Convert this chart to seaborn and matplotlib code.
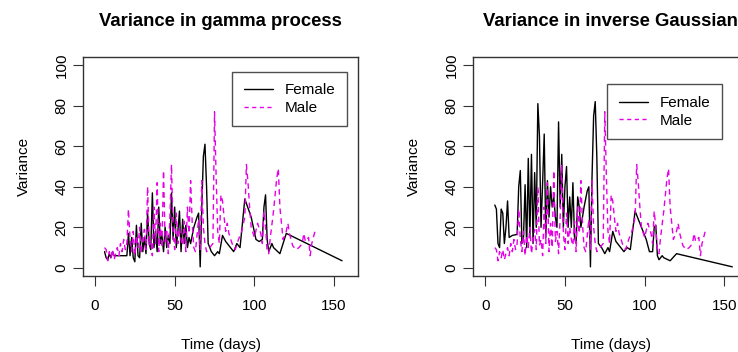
import numpy as np
import pandas as pd
import matplotlib
matplotlib.use("Agg")
import matplotlib.pyplot as plt
import seaborn as sns

female_day = [6, 7, 8, 9, 10, 11, 12, 13, 14, 15, 17, 20, 21, 22, 23, 24, 25, 26, 27, 28,
              29, 30, 31, 32, 33, 34, 35, 36, 37, 38, 39, 40, 41, 42, 43, 44, 45, 46, 47, 48,
              49, 50, 51, 52, 53, 54, 55, 56, 57, 58, 59, 60, 62, 64, 65, 66, 67, 68, 69, 70,
              71, 73, 75, 77, 78, 80, 82, 87, 89, 91, 94, 98, 101, 103, 105, 106, 107, 108, 109, 111,
              112, 116, 120, 155]
female_gamma = [8, 5, 4, 7, 5, 8, 6, 6, 6, 6, 6, 6, 17, 6, 15, 5, 3, 21, 6, 5,
                22, 8, 15, 7, 27, 12, 9, 37, 10, 18, 8, 30, 12, 16, 8, 20, 10, 16, 12, 37,
                14, 30, 10, 18, 28, 8, 24, 12, 21, 10, 15, 12, 20, 25, 27, 0.5, 30, 55, 61, 40,
                12, 8, 6, 8, 7, 16, 13, 8, 12, 10, 34, 25, 14, 13, 14, 30, 36, 14, 8, 12,
                10, 7, 17, 3.5]
female_ig = [31, 29, 12, 10, 29, 27, 12, 20, 33, 15, 16, 16.5, 40, 48, 12, 15, 41, 10, 54, 15,
             56, 12, 47, 20, 81, 65, 20, 42, 66, 15, 43, 25, 40, 30, 35, 25, 20, 72, 30, 56,
             20, 40, 50, 20, 35, 20, 42, 15, 12, 35, 30, 20, 30, 38, 40, 0.5, 45, 75, 82, 55,
             12, 10, 7, 10, 8, 18, 13, 8, 10, 9, 28, 20, 14, 8, 8, 20, 21, 6, 4, 6,
             5, 3.5, 7, 0.5]

male_day = [6, 7, 8, 9, 10, 11, 12, 13, 14, 15, 16, 17, 18, 19, 20, 21, 22, 23, 24, 25,
            26, 27, 28, 29, 30, 31, 32, 33, 34, 35, 36, 37, 38, 39, 40, 41, 42, 43, 44, 45,
            46, 47, 48, 49, 50, 51, 52, 53, 54, 55, 56, 57, 58, 59, 60, 61, 62, 63, 64, 65,
            66, 67, 68, 69, 70, 72, 74, 75, 76, 77, 78, 79, 80, 81, 82, 83, 84, 86, 88, 90,
            92, 94, 95, 96, 97, 98, 100, 102, 104, 105, 106, 107, 108, 109, 110, 112, 113, 114, 115, 116,
            117, 118, 120, 121, 122, 124, 126, 128, 130, 131, 132, 134, 135, 136, 138]
male_var = [10, 9, 3.5, 8, 5, 9, 4, 7, 10, 6, 12, 8, 14, 9, 12, 29, 14, 8, 18, 6,
            16, 10, 20, 7, 14, 19, 9, 40, 11, 14, 6, 30, 12, 42, 8, 22, 10, 48, 13, 18,
            7, 25, 51, 17, 9, 27, 12, 20, 14, 11, 23, 8, 30, 17, 43, 22, 10, 8, 16, 24,
            9, 43, 20, 12, 8, 10, 12, 77, 45, 18, 12, 36, 33, 25, 18, 22, 17, 12, 9, 14,
            18, 25, 51, 42, 30, 20, 15, 22, 17, 12, 28, 20, 8, 7, 15, 28, 36, 44, 49, 30,
            22, 14, 18, 22, 17, 11, 9, 10, 12, 17, 13, 15, 6, 12, 18]

titles = ["Variance in gamma process", "Variance in inverse Gaussian"]
female_series = [female_gamma, female_ig]

sns.set_style("ticks")
plt.rcParams["font.family"] = ["Liberation Sans", "DejaVu Sans"]
plt.rcParams["text.color"] = "black"
plt.rcParams["axes.labelcolor"] = "black"
plt.rcParams["xtick.color"] = "black"
plt.rcParams["ytick.color"] = "black"

fig = plt.figure(figsize=(7.38, 3.52), dpi=100)
ax_pos = [[0.1125, 0.216, 0.3726, 0.622], [0.6413, 0.216, 0.3726, 0.622]]
leg_anchor = [(0.96, 0.933), (0.905, 0.875)]

for i in range(2):
    ax = fig.add_axes(ax_pos[i])
    fem = pd.DataFrame({"day": female_day, "var": female_series[i]})
    mal = pd.DataFrame({"day": male_day, "var": male_var})
    sns.lineplot(data=fem, x="day", y="var", ax=ax, color="black", lw=1,
                 label="Female", estimator=None, sort=False)
    sns.lineplot(data=mal, x="day", y="var", ax=ax, color="#E600E6", lw=1,
                 label="Male", estimator=None, sort=False, dashes=False)
    ax.lines[1].set_dashes([4, 3])

    ax.set_xlim(-7.5, 165)
    ax.set_ylim(-4, 104)
    ax.set_xticks([0, 50, 100, 150])
    ax.set_yticks([0, 20, 40, 60, 80, 100])
    ax.tick_params(axis="both", labelsize=11, length=7.5, width=0.8, color="#333333")
    ax.tick_params(axis="x", pad=9)
    ax.tick_params(axis="y", pad=3)
    for lab in ax.get_yticklabels():
        lab.set_rotation(90)
        lab.set_va("center")
    for s in ax.spines.values():
        s.set_color("#333333")
        s.set_linewidth(1)
    ax.set_xlabel("Time (days)", fontsize=11, labelpad=18)
    ax.set_ylabel("Variance", fontsize=11, labelpad=17)
    ax.set_title(titles[i], fontsize=13.3, fontweight="bold", pad=22)

    leg = ax.legend(loc="upper right", bbox_to_anchor=leg_anchor[i], fontsize=11,
                    frameon=True, fancybox=False, borderaxespad=0, borderpad=0.75,
                    labelspacing=0.25, handlelength=1.95, handletextpad=0.75)
    leg.get_frame().set_edgecolor("#222222")
    leg.get_frame().set_linewidth(1)
    leg.get_lines()[1].set_dashes([3, 2.5])

fig.savefig("out.png", dpi=100)
